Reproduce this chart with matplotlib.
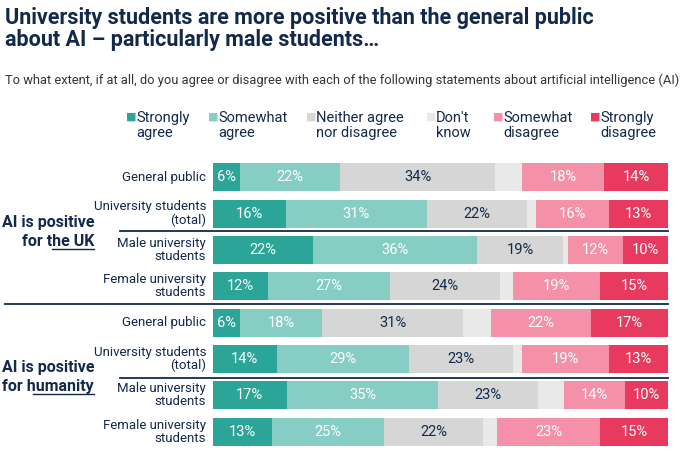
import matplotlib.pyplot as plt


navy   = '#13294b'
cols   = ['#2ba597', '#86cdc4', '#d6d6d6', '#e9e9e9', '#f491a8', '#e83a5f']
txtc   = ['white', 'white', navy, navy, 'white', 'white']
cats   = ['Strongly\nagree', 'Somewhat\nagree', 'Neither agree\nnor disagree',
          "Don't\nknow", 'Somewhat\ndisagree', 'Strongly\ndisagree']
rows   = ['General public', 'University students\n(total)',
          'Male university\nstudents', 'Female university\nstudents'] * 2

#values per row: strongly agree .. strongly disagree (don't know unlabelled)
data = [[6, 22, 34, 6, 18, 14],
        [16, 31, 22, 2, 16, 13],
        [22, 36, 19, 1, 12, 10],
        [12, 27, 24, 3, 19, 15],
        [6, 18, 31, 6, 22, 17],
        [14, 29, 23, 2, 19, 13],
        [17, 35, 23, 6, 14, 10],
        [13, 25, 22, 3, 23, 15]]

plt.rcParams['font.family'] = ['Liberation Sans Narrow', 'Roboto', 'DejaVu Sans']

fig = plt.figure(figsize=(6.8, 4.58), dpi=100)
ax  = fig.add_axes([213/680, 1-450/458, 455/680, 291/458])

for i, row in enumerate(data):
    tot  = float(sum(row))
    left = 0
    for j, v in enumerate(row):
        w = 100*v/tot
        ax.barh(i, w, left=left, height=0.77, color=cols[j])
        if j != 3:
            ax.text(left+w/2, i, '%d%%' % v, ha='center', va='center',
                    color=txtc[j], fontsize=10.5)
        left += w
    ax.text(-1.5, i, rows[i], ha='right', va='center', color=navy,
            fontsize=9.5, linespacing=1.0)

ax.set_xlim(0, 100)
ax.set_ylim(7.5, -0.5)
ax.axis('off')

# separator lines
for y, x0 in [(231, 120), (304, 5), (378, 120)]:
    fig.add_artist(plt.Line2D([x0/680, 668/680], [1-y/458]*2, color=navy, lw=1.3))

fig.text(0.008, 0.985, 'University students are more positive than the general public\nabout AI \u2013 particularly male students\u2026',
         ha='left', va='top', fontsize=15.5, fontweight='bold', color=navy, linespacing=1.0)
fig.text(0.008, 1-80/458, 'To what extent, if at all, do you agree or disagree with each of the following statements about artificial intelligence (AI)?',
         ha='left', va='center', fontsize=9.3, color='#333333')

legx = [126, 208, 306, 426, 493, 590]
for j in range(6):
    fig.text(legx[j]/680, 1-117/458, '\u25a0', color=cols[j], fontsize=8, ha='left', va='center')
    fig.text((legx[j]+10)/680, 1-111/458, cats[j], color=navy, fontsize=10.5,
             ha='left', va='top', linespacing=1.05)

fig.text(94/680, 1-232/458, 'AI is positive\nfor the UK', ha='right', va='center',
         fontsize=11.5, fontweight='bold', color=navy, linespacing=1.3)
fig.text(94/680, 1-377/458, 'AI is positive\nfor humanity', ha='right', va='center',
         fontsize=11.5, fontweight='bold', color=navy, linespacing=1.3)
# underlines
for x0, y in [(52, 249), (33, 394)]:
    fig.add_artist(plt.Line2D([x0/680, 94/680], [1-y/458]*2, color=navy, lw=1))

plt.savefig('out.png', dpi=100)
